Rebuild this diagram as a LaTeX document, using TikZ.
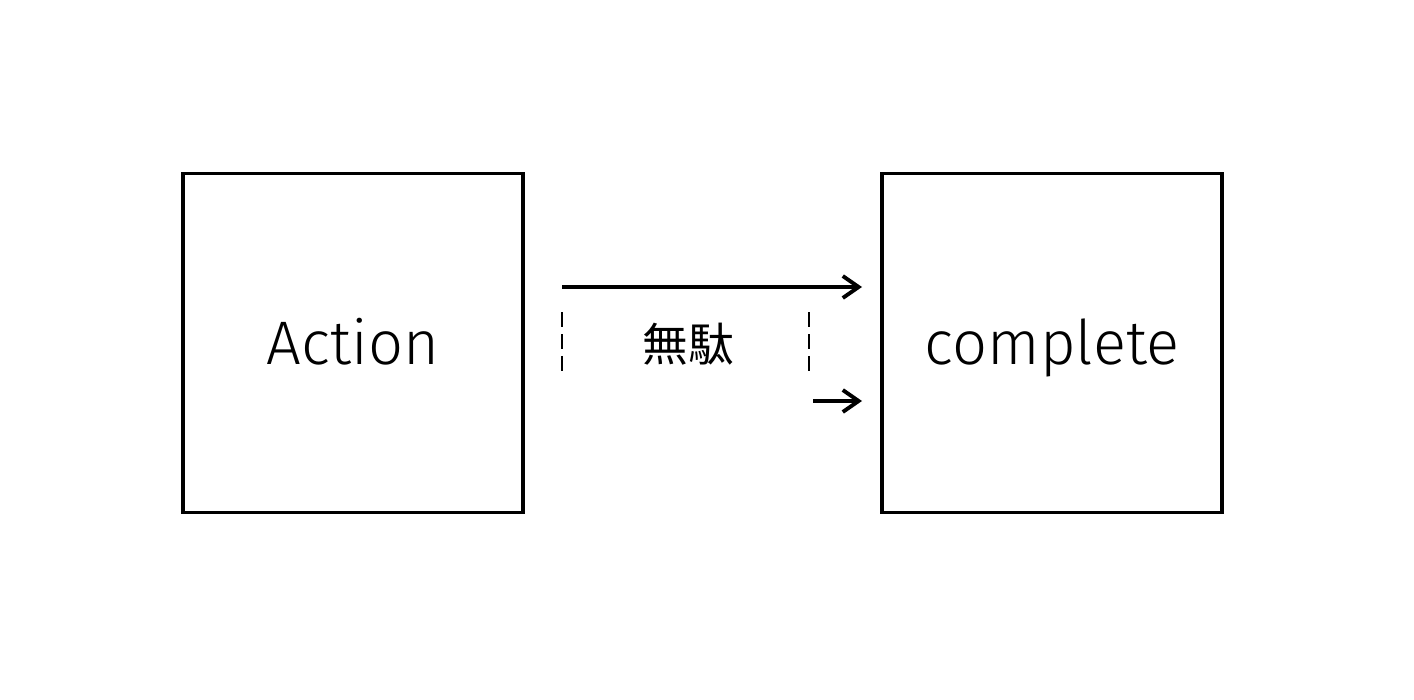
\documentclass[tikz,border=0pt]{standalone}
\usepackage{fontspec}
\setmainfont{Fira Sans Light}
\newfontfamily\cjkfont{Noto Sans CJK JP}
\usetikzlibrary{arrows.meta}

\tikzset{
  stagebox/.style={draw,line width=2.2pt,minimum width=6.8cm,minimum height=6.78cm,
    inner sep=0pt,text height=27pt,text depth=2pt,font=\fontsize{35}{40}\selectfont},
  flowarrow/.style={line width=2.2pt,-{Straight Barb[length=9pt,width=12.5pt,line width=2.2pt]}},
  gapline/.style={line width=0.8pt,dash pattern=on 0.3cm off 0.14cm}
}

\begin{document}
\begin{tikzpicture}[x=0.02cm,y=-0.02cm]
        \useasboundingbox (0,0) rectangle (1414,700);

        % Boxes
        \node[stagebox] (action) at (353,343) {Action};
        \node[stagebox] (complete) at (1052,343) {complete};

        % Arrows
        \coordinate (longstart) at (562,287);
        \coordinate (longend) at (862,287);
        \coordinate (shortstart) at (813,401);
        \coordinate (shortend) at (862,401);
        \draw[flowarrow] (longstart) -- (longend);
        \draw[flowarrow] (shortstart) -- (shortend);

        % Waste gap
        \coordinate (gapltop) at (562,312);
        \coordinate (gaplbot) at (562,371);
        \coordinate (gaprtop) at (809,312);
        \coordinate (gaprbot) at (809,371);
        \draw[gapline] (gapltop) -- (gaplbot);
        \draw[gapline] (gaprtop) -- (gaprbot);
        \node[font=\cjkfont\fontsize{26}{30}\selectfont] (muda) at (688,344) {無駄};
      \end{tikzpicture}
\end{document}
